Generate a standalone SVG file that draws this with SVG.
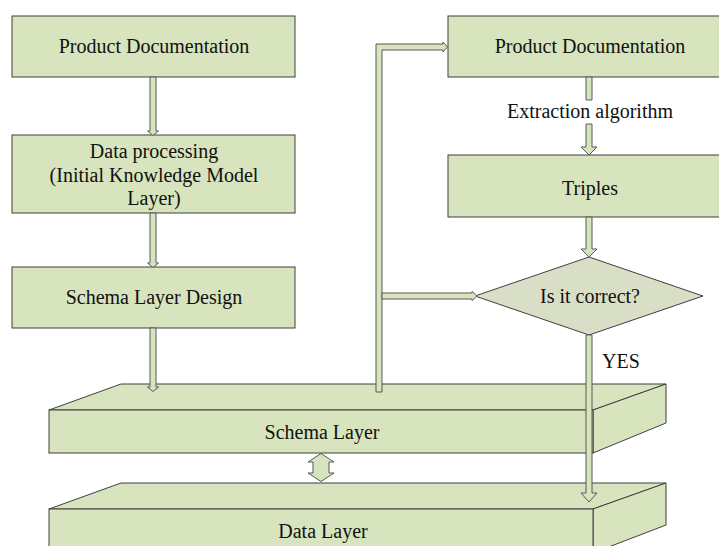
<svg xmlns="http://www.w3.org/2000/svg" width="719" height="546" viewBox="0 0 719 546">
<style>
.box{fill:#d7e4bd;stroke:#3f3f3f;stroke-width:1}
.dia{fill:#d9dfc6;stroke:#3f3f3f;stroke-width:1}
.arr{fill:#d7e4bd;stroke:#595959;stroke-width:1;stroke-linejoin:miter}
text{font-family:"Liberation Serif","Times New Roman",serif;font-size:20px;fill:#111;text-anchor:middle}
</style>
<rect width="719" height="546" fill="#fff"/>
<g id="pd-left"><rect class="box" x="12" y="16" width="283" height="61"/><text x="154" y="53">Product Documentation</text></g>
<g id="data-processing"><rect class="box" x="12" y="135" width="283" height="78"/><text x="154" y="158">Data processing</text><text x="154" y="182">(Initial Knowledge Model</text><text x="154" y="205">Layer)</text></g>
<g id="schema-design"><rect class="box" x="12" y="267" width="283" height="61"/><text x="154" y="304">Schema Layer Design</text></g>
<g id="pd-right"><rect class="box" x="448" y="16" width="284" height="61"/><text x="590" y="53">Product Documentation</text></g>
<g id="triples"><rect class="box" x="448" y="155" width="284" height="62"/><text x="590" y="195">Triples</text></g>
<g id="decision"><polygon class="dia" points="589,257 703,296 589,335 475,296"/><text x="590" y="303">Is it correct?</text></g>
<g id="data-layer"><polygon class="box" points="49,509 121,483 666,483 593,509"/><polygon class="box" points="593,509 666,483 666,525 593,553"/><rect class="box" x="49" y="509" width="544" height="50"/><text x="323" y="538">Data Layer</text></g>
<g id="schema-layer"><polygon class="box" points="49,410 121,384 666,384 593,410"/><polygon class="box" points="593,410 666,384 666,423 593,453"/><rect class="box" x="49" y="410" width="544" height="43"/><text x="322" y="439">Schema Layer</text></g>
<g id="connectors">
<path class="arr" d="M150,77 L156,77 L156,131 L158.5,131 L153,135.5 L147.5,131 L150,131 Z"/>
<path class="arr" d="M150,213 L156,213 L156,263 L158.5,263 L153,267.5 L147.5,263 L150,263 Z"/>
<path class="arr" d="M150,328 L156,328 L156,387 L158.5,387 L153,391.5 L147.5,387 L150,387 Z"/>
<path class="arr" d="M586,77 L592,77 L592,100 L586,100 Z"/>
<path class="arr" d="M586,124 L592,124 L592,147 L597,147 L589,155 L581,147 L586,147 Z"/>
<path class="arr" d="M586,217 L592,217 L592,249 L597,249 L589,257 L581,249 L586,249 Z"/>
<path class="arr" d="M586,335 L592,335 L592,493 L597,493 L589,502 L581,493 L586,493 Z"/>
<path class="arr" d="M376,392 L376,44 L443,44 L443,42 L447.5,47 L443,52 L443,50 L382,50 L382,392 Z"/>
<path class="arr" d="M382,293 L472,293 L472,291.5 L477,296 L472,300.5 L472,299 L382,299 Z"/>
<path class="arr" d="M321,453.5 L334,462 L329,462 L329,473 L334,473 L321,481.5 L308,473 L313,473 L313,462 L308,462 Z"/>
<text x="602" y="368" style="text-anchor:start">YES</text>
<text x="590" y="118">Extraction algorithm</text>
</g>
</svg>
